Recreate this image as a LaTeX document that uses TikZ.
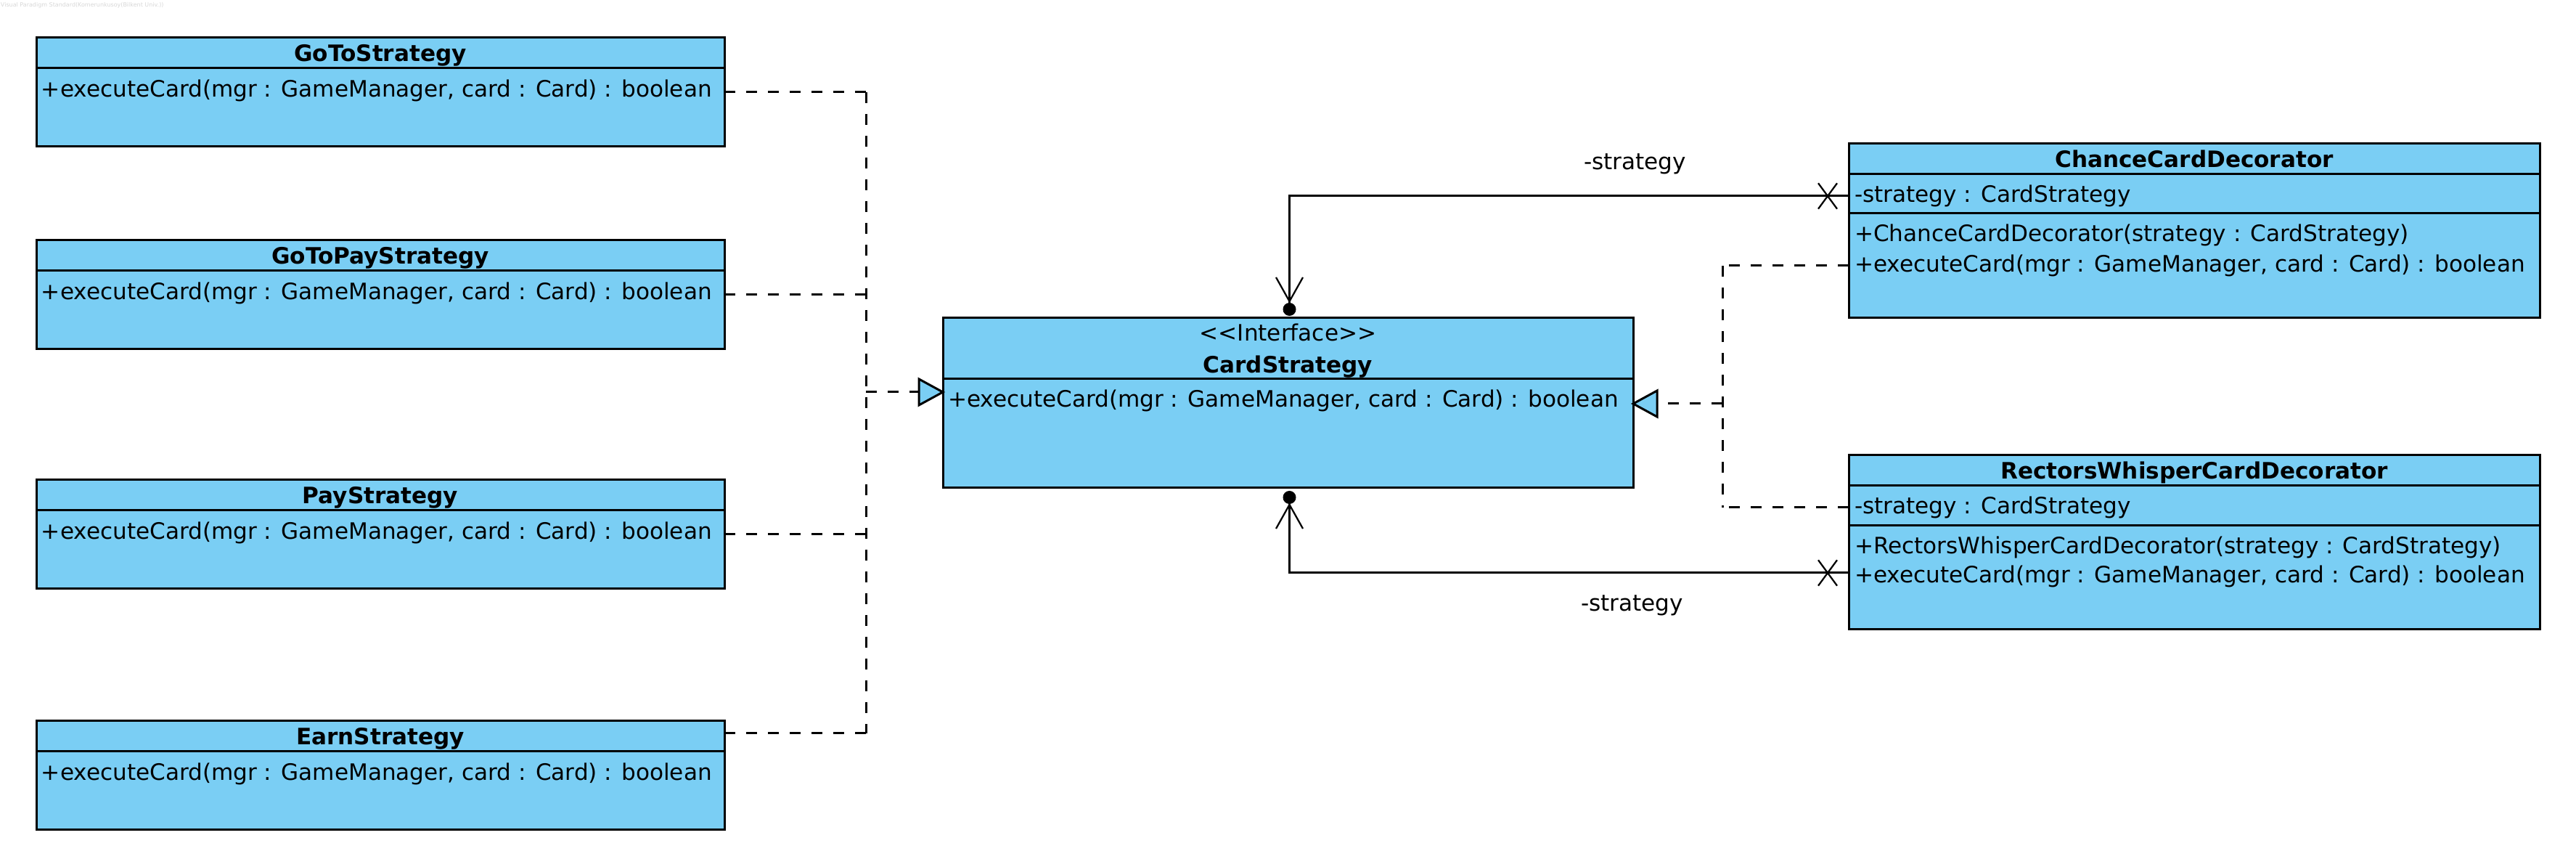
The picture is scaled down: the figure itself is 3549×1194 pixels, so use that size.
\documentclass[tikz,border=0pt]{standalone}
\usepackage{fontspec}
\setmainfont{DejaVu Sans}
\usetikzlibrary{calc}
\definecolor{umlfill}{RGB}{122,206,244}
\definecolor{wmark}{RGB}{215,215,215}
\newcommand\umlfont{\fontsize{6.22}{7.5}\selectfont}
\begin{document}
\begin{tikzpicture}[x=0.2pt,y=-0.2pt,
  every node/.style={font=\umlfont, inner sep=0pt, outer sep=0pt},
  namefont/.style={font=\umlfont\bfseries},
  cls/.style={draw=black, fill=umlfill, line width=0.6pt, anchor=north west},
  smallcls/.style={cls, minimum width=189.6pt, minimum height=30pt},
  cardcls/.style={cls, minimum width=190.2pt, minimum height=46.8pt},
  decocls/.style={cls, minimum width=190.4pt, minimum height=48pt},
  sepline/.style={draw=black, line width=0.6pt},
  dep/.style={draw=black, line width=0.6pt, dash pattern=on 3pt off 3pt},
  assoc/.style={draw=black, line width=0.6pt},
  tipline/.style={draw=black, line width=0.45pt},
  realtri/.style={draw=black, fill=umlfill, line width=0.6pt, line join=miter}
]
\useasboundingbox (0,0) rectangle (3549,1194);

% watermark
\node[anchor=base west, font=\fontsize{1.6}{2}\selectfont, text=wmark] (wm) at (1,10) {Visual Paradigm Standard(Komerunkusoy(Bilkent Univ.))};

\newcommand\leftcls[3]{%
  \node[smallcls] (#1) at (50,#2) {};
  \draw[sepline] ($(#1.north west)+(0,42)$) -- ($(#1.north east)+(0,42)$);
  \node[anchor=base, namefont] (#1-name) at ($(#1.north)+(0,33)$) {#3};
  \node[anchor=base west] (#1-op) at ($(#1.north west)+(7,82)$) {+executeCard(mgr : GameManager, card : Card) : boolean};
}
\leftcls{goto}{52}{GoToStrategy}
\leftcls{gotopay}{331}{GoToPayStrategy}
\leftcls{pay}{661}{PayStrategy}
\leftcls{earn}{993}{EarnStrategy}

% CardStrategy
\node[cardcls] (card) at (1299,438) {};
\draw[sepline] ($(card.north west)+(0,84)$) -- ($(card.north east)+(0,84)$);
\node[anchor=base] (card-st) at ($(card.north)+(0,32)$) {<{}<Interface>{}>};
\node[anchor=base, namefont] (card-name) at ($(card.north)+(0,76)$) {CardStrategy};
\node[anchor=base west] (card-op) at ($(card.north west)+(7,123)$) {+executeCard(mgr : GameManager, card : Card) : boolean};

% ChanceCardDecorator
\node[decocls] (chance) at (2547,198) {};
\draw[sepline] ($(chance.north west)+(0,42)$) -- ($(chance.north east)+(0,42)$);
\draw[sepline] ($(chance.north west)+(0,96)$) -- ($(chance.north east)+(0,96)$);
\node[anchor=base, namefont] (chance-name) at ($(chance.north)+(0,33)$) {ChanceCardDecorator};
\node[anchor=base west] (chance-attr) at ($(chance.north west)+(8,81)$) {-strategy : CardStrategy};
\node[anchor=base west] (chance-op1) at ($(chance.north west)+(8,135)$) {+ChanceCardDecorator(strategy : CardStrategy)};
\node[anchor=base west] (chance-op2) at ($(chance.north west)+(8,177)$) {+executeCard(mgr : GameManager, card : Card) : boolean};

% RectorsWhisperCardDecorator
\node[decocls] (rect) at (2547,627) {};
\draw[sepline] ($(rect.north west)+(0,42)$) -- ($(rect.north east)+(0,42)$);
\draw[sepline] ($(rect.north west)+(0,97)$) -- ($(rect.north east)+(0,97)$);
\node[anchor=base, namefont] (rect-name) at ($(rect.north)+(0,33)$) {RectorsWhisperCardDecorator};
\node[anchor=base west] (rect-attr) at ($(rect.north west)+(8,81)$) {-strategy : CardStrategy};
\node[anchor=base west] (rect-op1) at ($(rect.north west)+(8,136)$) {+RectorsWhisperCardDecorator(strategy : CardStrategy)};
\node[anchor=base west] (rect-op2) at ($(rect.north west)+(8,176)$) {+executeCard(mgr : GameManager, card : Card) : boolean};

% left realizations
\coordinate (lj) at (1193,540);
\coordinate (earnA) at ($(earn.north east)+(0,17)$);
\coordinate (cardL) at ($(card.north west)+(0,102)$);
\draw[dep] (goto.east) -- (goto.east -| lj);
\draw[dep] (gotopay.east) -- (gotopay.east -| lj);
\draw[dep] (pay.east) -- (pay.east -| lj);
\draw[dep] (earnA) -- (earnA -| lj);
\draw[dep] (goto.east -| lj) -- (earnA -| lj);
\draw[dep] (lj) -- ($(cardL)+(-33,0)$);
\draw[realtri] ($(cardL)+(-33,-18)$) -- (cardL) -- ($(cardL)+(-33,18)$) -- cycle;

% right realizations
\coordinate (chD) at ($(chance.north west)+(0,168)$);
\coordinate (rwD) at ($(rect.north west)+(0,72)$);
\coordinate (rj) at (2373,556);
\draw[dep] (chD) -- (chD -| rj);
\draw[dep] (rwD) -- (rwD -| rj);
\draw[dep] (chD -| rj) -- (rwD -| rj);
\draw[dep] (rj) -- ($(card.east |- rj)+(33,0)$);
\draw[realtri] ($(card.east |- rj)+(33,-18)$) -- (card.east |- rj) -- ($(card.east |- rj)+(33,18)$) -- cycle;

% associations
\coordinate (chA) at ($(chance.north west)+(0,72)$);
\coordinate (ctop) at ($(card.north)+(2,0)$);
\draw[assoc] (chA) -| ($(ctop)+(0,-12)$);
\fill ($(ctop)+(0,-12)$) circle[radius=9];
\draw[tipline] ($(ctop)+(-18.5,-56)$) -- ($(ctop)+(0,-23)$) -- ($(ctop)+(18.5,-56)$);
\draw[tipline] ($(chA)+(-42,-17.7)$) -- ($(chA)+(-16,17.7)$);
\draw[tipline] ($(chA)+(-42,17.7)$) -- ($(chA)+(-16,-17.7)$);
\node[anchor=base west] (lab1) at (2182,234) {-strategy};

\coordinate (rwA) at ($(rect.north west)+(0,162)$);
\coordinate (cbot) at ($(card.south)+(2,0)$);
\draw[assoc] (rwA) -| ($(cbot)+(0,13)$);
\fill ($(cbot)+(0,13)$) circle[radius=9];
\draw[tipline] ($(cbot)+(-18.5,56)$) -- ($(cbot)+(0,23)$) -- ($(cbot)+(18.5,56)$);
\draw[tipline] ($(rwA)+(-42,-17.7)$) -- ($(rwA)+(-16,17.7)$);
\draw[tipline] ($(rwA)+(-42,17.7)$) -- ($(rwA)+(-16,-17.7)$);
\node[anchor=base west] (lab2) at (2178,842) {-strategy};
\end{tikzpicture}
\end{document}
